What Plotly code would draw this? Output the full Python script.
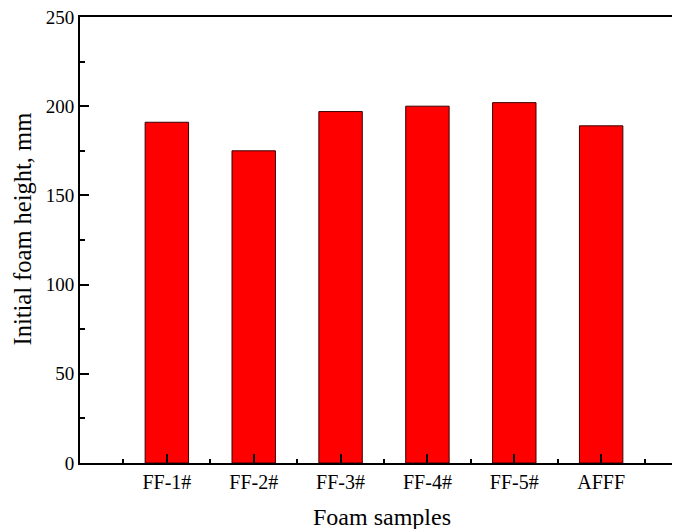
import plotly.graph_objects as go

categories = ["FF-1#", "FF-2#", "FF-3#", "FF-4#", "FF-5#", "AFFF"]
heights = [191, 175, 197, 200, 202, 189]
y_ticks = [0, 50, 100, 150, 200, 250]

xpos = list(range(len(categories)))
minor_x = [i - 0.5 for i in range(len(categories) + 1)]

font = "Liberation Serif, Times New Roman, serif"

fig = go.Figure(go.Bar(
    x=xpos, y=heights, width=0.5,
    marker=dict(color="#ff0000", line=dict(color="#3a0000", width=1)),
))

fig.update_layout(
    width=680, height=529,
    margin=dict(l=72, r=0, t=9, b=74),
    plot_bgcolor="white", paper_bgcolor="white",
    showlegend=False,
    font=dict(family=font, color="black", size=19),
    annotations=[
        dict(text="Foam samples", xref="paper", yref="paper", x=0.497, y=0,
             yshift=-54, xanchor="center", yanchor="middle", showarrow=False,
             font=dict(size=24)),
        dict(text="Initial foam height, mm", xref="paper", yref="paper", x=0, y=0.5235,
             xshift=-57, xanchor="center", yanchor="middle", textangle=-90, showarrow=False,
             borderpad=0, font=dict(size=24.5)),
    ],
)
fig.update_xaxes(
    range=[-1, 6], automargin=False,
    tickvals=xpos, ticktext=categories,
    ticks="inside", ticklen=9, tickwidth=1.5, tickcolor="black",
    minor=dict(tickvals=minor_x, ticks="inside", ticklen=4, tickwidth=1.5, tickcolor="black"),
    showline=True, linecolor="black", linewidth=2, mirror=True,
    showgrid=False, zeroline=False,
    tickfont=dict(size=20), ticklabeloverflow="allow",
)
fig.update_yaxes(
    range=[0, 250], automargin=False,
    tickvals=y_ticks,
    ticks="inside", ticklen=9, tickwidth=1.5, tickcolor="black",
    minor=dict(dtick=25, ticks="inside", ticklen=5, tickwidth=1.5, tickcolor="black"),
    showline=True, linecolor="black", linewidth=2,
    showgrid=False, zeroline=False,
    tickfont=dict(size=19), ticklabeloverflow="allow",
)

fig.write_html("out.html")
